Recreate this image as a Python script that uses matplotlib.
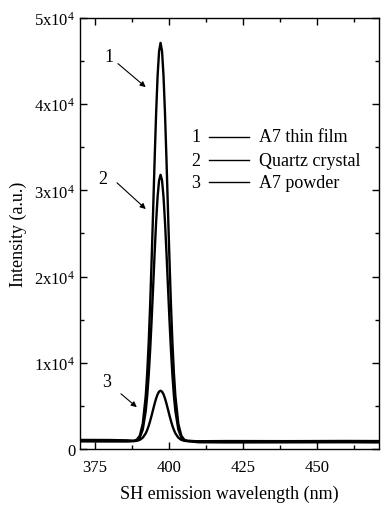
import matplotlib
matplotlib.use('Agg')
import matplotlib.pyplot as plt
from matplotlib.ticker import MultipleLocator

plt.rcParams['font.family'] = 'Liberation Serif'
plt.rcParams['mathtext.fontset'] = 'custom'
plt.rcParams['mathtext.rm'] = 'Liberation Serif'
plt.rcParams['mathtext.default'] = 'regular'

# data -----------------------------------------------------------------------
wavelength = [370, 380, 386,
              388.2, 389.2, 390.2, 391.2, 392.2, 392.7, 393.2, 393.7, 394.2, 394.7,
              395.2, 395.7, 396.2, 396.7, 397.2, 397.7, 398.2, 398.7, 399.2, 399.7,
              400.2, 400.7, 401.2, 401.7, 402.2, 403.2, 404.2, 405.2, 406.2,
              410, 420, 440, 460, 471]

thin_film = [980, 960, 930,
             950, 1080, 1550, 2930, 6170, 8850, 12400, 16840, 22060, 27740,
             33560, 38920, 43270, 46130, 47100, 46130, 43270, 38920, 33560, 27740,
             22060, 16840, 12400, 8850, 6170, 2930, 1550, 1080, 950,
             880, 860, 850, 840, 850]

quartz = [1050, 1040, 1000,
          930, 1020, 1330, 2260, 4420, 6210, 8590, 11560, 15050, 18850,
          22750, 26330, 29240, 31150, 31800, 31150, 29240, 26330, 22750, 18850,
          15050, 11560, 8590, 6210, 4420, 2260, 1330, 1020, 930,
          900, 920, 910, 930, 920]

powder = [880, 870, 870,
          915, 950, 1060, 1310, 1820, 2210, 2690, 3270, 3910, 4590,
          5260, 5860, 6340, 6650, 6760, 6650, 6340, 5860, 5260, 4590,
          3910, 3270, 2690, 2210, 1820, 1310, 1060, 950, 915,
          780, 760, 770, 780, 760]

series_nums = ['1', '2', '3']
series_names = ['A7 thin film', 'Quartz crystal', 'A7 powder']

xticks = [375, 400, 425, 450]
yticks = [0, 10000, 20000, 30000, 40000, 50000]
ytick_labels = ['0', '1x10$^4$', '2x10$^4$', '3x10$^4$', '4x10$^4$', '5x10$^4$']

# arrow annotations: label position, arrow tail, arrow head (data coords)
arrow_labels = ['1', '2', '3']
arrow_text = [(379.7, 45480), (377.7, 31320), (379.0, 7770)]
arrow_tail = [(382.1, 44900), (381.8, 31090), (383.1, 6610)]
arrow_head = [(392.9, 41760), (392.9, 27610), (389.9, 4640)]
# ---------------------------------------------------------------------------

fig = plt.figure(figsize=(3.81, 5.06), dpi=100)
ax = fig.add_axes([0.21, 0.1107, 0.785, 0.852])

for y in [thin_film, quartz, powder]:
    ax.plot(wavelength, y, color='black', lw=1.7)

ax.set_xlim(370, 471)
ax.set_ylim(0, 50000)
ax.set_xticks(xticks)
ax.set_yticks(yticks)
ax.set_yticklabels(ytick_labels)
ax.xaxis.set_minor_locator(MultipleLocator(12.5))
ax.yaxis.set_minor_locator(MultipleLocator(5000))
ax.tick_params(which='both', direction='in', top=True, right=True, labelsize=12, width=1)
ax.tick_params(which='major', length=5)
ax.tick_params(which='minor', length=3)
ax.tick_params(axis='x', which='major', pad=7)
for s in ax.spines.values():
    s.set_linewidth(1)

ax.set_xlabel('SH emission wavelength (nm)', fontsize=13, labelpad=7)
ax.set_ylabel('Intensity (a.u.)', fontsize=13, labelpad=5)

# legend built by hand: number, line, name
legend_y = [0.724, 0.670, 0.619]
for num, name, ly in zip(series_nums, series_names, legend_y):
    ax.text(0.388, ly, num, transform=ax.transAxes, ha='center', va='center', fontsize=13)
    ax.plot([0.431, 0.565], [ly, ly], transform=ax.transAxes, color='black', lw=1)
    ax.text(0.599, ly, name, transform=ax.transAxes, ha='left', va='center', fontsize=13)

for lab, tp, tl, hd in zip(arrow_labels, arrow_text, arrow_tail, arrow_head):
    ax.text(tp[0], tp[1], lab, ha='center', va='center', fontsize=13)
    ax.annotate('', xy=hd, xytext=tl,
                arrowprops=dict(arrowstyle='-|>', color='black', lw=0.8, mutation_scale=8))

fig.savefig('out.png', dpi=100)
